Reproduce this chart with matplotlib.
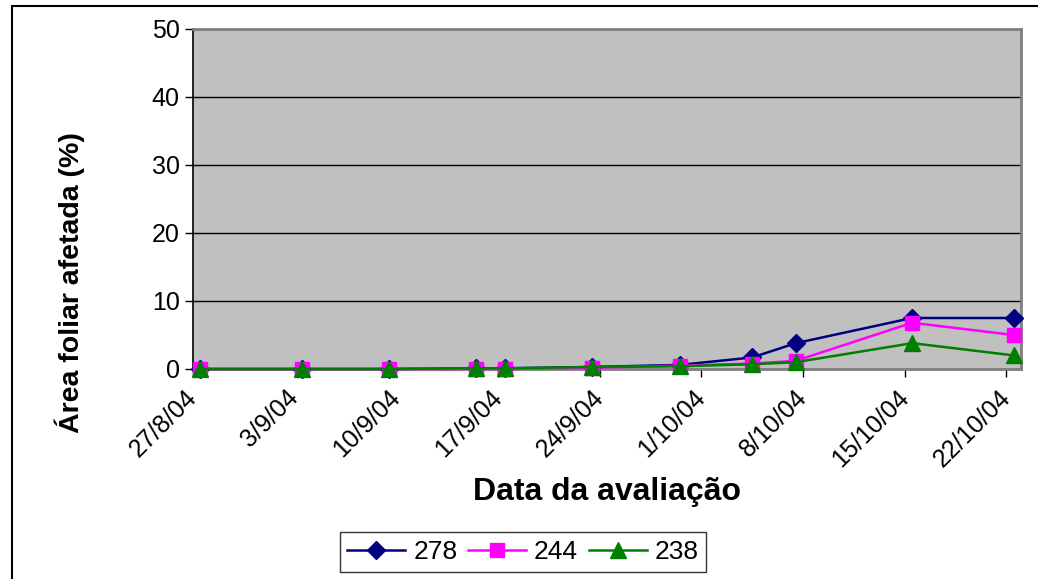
import numpy as np
import pandas as pd
import matplotlib
matplotlib.use('Agg')
import matplotlib.pyplot as plt
from matplotlib.patches import Rectangle

plt.rcParams['font.family'] = ['Liberation Sans', 'DejaVu Sans']

# --- Data ---
dates = ['2004-08-27', '2004-09-03', '2004-09-09', '2004-09-15', '2004-09-17',
         '2004-09-23', '2004-09-29', '2004-10-04', '2004-10-07', '2004-10-15',
         '2004-10-22']
s278 = [0.0, 0.0, 0.0, 0.1, 0.1, 0.3, 0.6, 1.7, 3.8, 7.5, 7.5]
s244 = [0.0, 0.0, 0.0, 0.0, 0.0, 0.2, 0.5, 0.8, 1.2, 6.8, 5.0]
s238 = [0.0, 0.0, 0.0, 0.1, 0.1, 0.3, 0.4, 0.7, 1.0, 3.8, 2.0]
tick_dates = ['2004-08-27', '2004-09-03', '2004-09-10', '2004-09-17', '2004-09-24',
              '2004-10-01', '2004-10-08', '2004-10-15', '2004-10-22']
tick_labels = ['27/8/04', '3/9/04', '10/9/04', '17/9/04', '24/9/04',
               '1/10/04', '8/10/04', '15/10/04', '22/10/04']

# Excel date axis puts the points in the middle of the day
x = pd.to_datetime(dates) + pd.Timedelta(hours=12)

fig = plt.figure(figsize=(10.38, 5.79), dpi=100)
ax = fig.add_axes([193 / 1038, 1 - 369 / 579, (1021 - 193) / 1038, (369 - 29) / 579])
ax.set_facecolor('#c0c0c0')

ax.plot(x, s278, color='#000080', marker='D', markersize=9, lw=1.8, label='278',
        clip_on=False, zorder=4)
ax.plot(x, s244, color='#ff00ff', marker='s', markersize=10, lw=1.8, label='244',
        clip_on=False, zorder=5)
ax.plot(x, s238, color='#008000', marker='^', markersize=12, lw=1.8, label='238',
        clip_on=False, zorder=6)

ax.set_ylim(0, 50)
ax.set_yticks(range(0, 51, 10))
ax.set_xlim(pd.Timestamp('2004-08-27'), pd.Timestamp('2004-10-23'))
ax.set_xticks(pd.to_datetime(tick_dates))
ax.set_xticklabels(tick_labels, rotation=45, ha='right', va='center',
                   rotation_mode='anchor')
ax.tick_params(labelsize=18, length=6, direction='out', width=1)
ax.tick_params(axis='x', pad=12)
ax.yaxis.grid(True, color='black', lw=1)
ax.set_axisbelow(True)

for side in ['top', 'right', 'bottom']:
    ax.spines[side].set_color('#808080')
    ax.spines[side].set_linewidth(2)
ax.spines['left'].set_color('black')
ax.spines['left'].set_linewidth(1.2)

ax.set_ylabel('Área foliar afetada (%)', fontsize=20.5, fontweight='bold')
ax.yaxis.set_label_coords(-0.130, 0.253)
ax.set_xlabel('Data da avaliação', fontsize=23, fontweight='bold', labelpad=4)

leg = ax.legend(loc='upper center', bbox_to_anchor=(523 / 1038, 1 - 532 / 579),
                bbox_transform=fig.transFigure, ncol=3, fontsize=19, frameon=True,
                fancybox=False, edgecolor='black', handlelength=2.2, handletextpad=0.3,
                columnspacing=0.4, borderpad=0.3, borderaxespad=0)
leg.get_frame().set_linewidth(1)

# chart area border
fig.patches.append(Rectangle((12 / 1038, -0.1), 1.2, 1 - 6 / 579 + 0.1,
                             transform=fig.transFigure, fill=False,
                             edgecolor='black', lw=1.5))

fig.savefig('out.png', dpi=100)
